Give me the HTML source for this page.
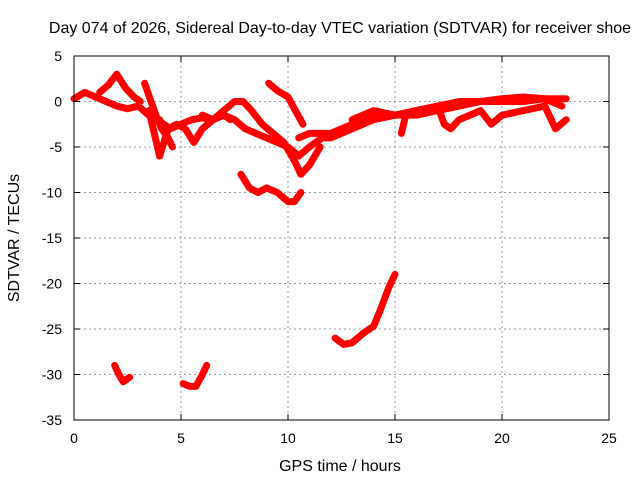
<!DOCTYPE html>
<html><head><meta charset="utf-8"><style>
body{margin:0;background:#fff;}
svg text{font-family:"Liberation Sans",sans-serif;font-size:14px;fill:#000;}
svg text.big{font-size:16px;}
</style></head><body>
<svg id="chart" width="640" height="480">
<text class="big" x="340" y="33" text-anchor="middle">Day 074 of 2026, Sidereal Day-to-day VTEC variation (SDTVAR) for receiver shoe</text>
<text class="big" x="340" y="471" text-anchor="middle">GPS time / hours</text>
<text class="big" transform="translate(19,238) rotate(-90)" text-anchor="middle">SDTVAR / TECUs</text>
<g id="grid"></g><g id="series"></g>
<rect x="74" y="56" width="535" height="364" fill="none" stroke="#000" stroke-width="1"/>
<g id="ticks"></g>
</svg>
<script>
const xTicks=[0,5,10,15,20,25];
const yTicks=[5,0,-5,-10,-15,-20,-25,-30,-35];
const t1h=[0,0.5,1,1.5,2,2.5,3,3.5,4];
const t1v=[0.3,1,0.5,0,-0.5,-0.8,-0.5,-1.5,-2];
const t2h=[1.2,1.6,2,2.4,2.8,3.1];
const t2v=[1,1.8,3,1.5,0.5,0];
const t3h=[3.3,3.6,3.9,4.1,4.4,4.6];
const t3v=[2,0,-2,-3,-4,-5];
const t4h=[3.5,3.8,4,4.4,4.8,5.2,5.6,6,6.5,7,7.3];
const t4v=[-1,-4,-6,-3,-2.5,-3,-4.5,-3,-2,-1.5,-2];
const t5h=[3.9,4.5,5,5.5,6,6.5,7,7.5,7.9,8.3,8.8,9.3,9.8,10.3,10.6,11,11.5];
const t5v=[-2,-3,-2.5,-2,-1.8,-2,-1,0,0,-1,-2.5,-3.5,-4.5,-6.5,-8,-7,-5];
const t6h=[6,6.5,7,7.5,8,8.5,9,9.5,10,10.5,11,11.6,12,13,14,15,16,17,18,19,20,21,22,23];
const t6v=[-1.5,-2,-1.5,-2,-3,-3.5,-4,-4.5,-5,-6,-5,-4,-4,-3,-2,-1.5,-1.5,-1,-0.5,0,0,0,0.3,0.3];
const t7h=[7.8,8.2,8.6,9,9.5,10,10.3,10.6];
const t7v=[-8,-9.5,-10,-9.5,-10,-11,-11,-10];
const t8h=[9.1,9.5,10,10.3,10.7];
const t8v=[2,1.2,0.5,-0.8,-2.5];
const t9h=[10.5,11,11.5,12,12.5,13,13.5,14,15,16,17];
const t9v=[-4,-3.5,-3.5,-3.5,-3,-2.5,-2,-1.5,-1.5,-1,-1];
const t10h=[15.3,15.5,16,17,17.3,17.6,18,18.5,19,19.5,20,21,22,22.5,23];
const t10v=[-3.5,-1.5,-1,-0.5,-2.5,-3,-2,-1.5,-1,-2.5,-1.5,-1,-0.5,-3,-2];
const t11h=[13,13.5,14,15,16,17,18,19,20,21,22,22.8];
const t11v=[-2,-1.5,-1,-1.5,-1,-0.5,0,0,0.3,0.5,0.3,-0.5];
const t12h=[1.9,2.1,2.3,2.6];
const t12v=[-29,-30,-30.8,-30.3];
const t13h=[5.1,5.4,5.7,6,6.2];
const t13v=[-31,-31.3,-31.3,-30,-29];
const t14h=[12.2,12.6,13,13.5,14,14.3,14.7,15];
const t14v=[-26,-26.7,-26.5,-25.5,-24.7,-23,-20.5,-19];
const tracks=[[t1h,t1v],[t2h,t2v],[t3h,t3v],[t4h,t4v],[t5h,t5v],[t6h,t6v],[t7h,t7v],[t8h,t8v],[t9h,t9v],[t10h,t10v],[t11h,t11v],[t12h,t12v],[t13h,t13v],[t14h,t14v]];
const X=h=>74+h*535/25, Y=v=>56+(5-v)*364/40;
const NS="http://www.w3.org/2000/svg";
const grid=document.getElementById('grid'),tk=document.getElementById('ticks'),sr=document.getElementById('series');
function mk(tag,attrs,parent){const e=document.createElementNS(NS,tag);for(const k in attrs)e.setAttribute(k,attrs[k]);parent.appendChild(e);return e;}
xTicks.forEach(t=>{
  if(t>0&&t<25){const g=mk('line',{x1:X(t),x2:X(t),y1:56,y2:420,stroke:'#999','stroke-dasharray':'2,3'},grid);
  
  }
  const l=mk('text',{x:X(t),y:443,'text-anchor':'middle'},tk);l.textContent=t;
  
  
  mk('line',{x1:X(t),x2:X(t),y1:420,y2:414,stroke:'#000'},tk);mk('line',{x1:X(t),x2:X(t),y1:56,y2:62,stroke:'#000'},tk);
});
yTicks.forEach(t=>{
  if(t<5&&t>-35){const g=mk('line',{x1:74,x2:609,y1:Y(t),y2:Y(t),stroke:'#999','stroke-dasharray':'2,3'},grid);
  
  }
  const l=mk('text',{x:62,y:Y(t)+5,'text-anchor':'end'},tk);l.textContent=t;
  
  
  mk('line',{x1:74,x2:80,y1:Y(t),y2:Y(t),stroke:'#000'},tk);mk('line',{x1:609,x2:603,y1:Y(t),y2:Y(t),stroke:'#000'},tk);
});
tracks.forEach((tr,i)=>{
  const pts=tr[0].map((h,j)=>X(h)+','+Y(tr[1][j])).join(' ');
  const p=mk('polyline',{points:pts,fill:'none',stroke:'#f00','stroke-width':7,'stroke-linejoin':'round','stroke-linecap':'round'},sr);
  
  
});
</script>
</body></html>
